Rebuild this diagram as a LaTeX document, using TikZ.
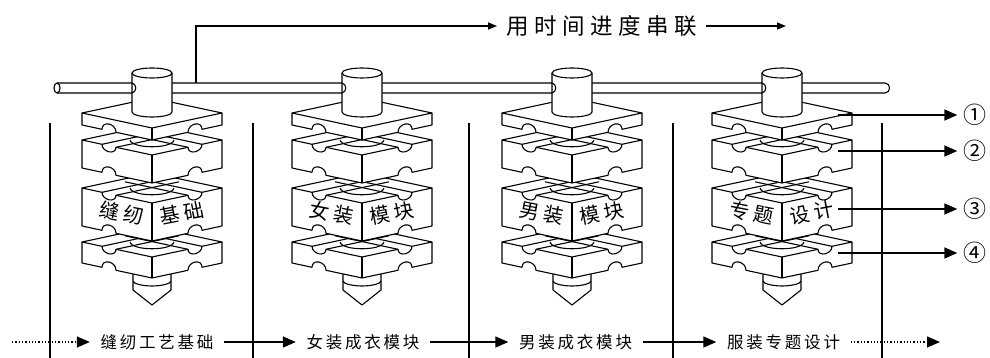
\documentclass[tikz,border=0pt]{standalone}
\usepackage{fontspec}
\newfontfamily\cjk{Noto Sans CJK SC}
\usetikzlibrary{arrows.meta}
\newcommand\gapk{\kern2.8pt}
\newcommand\gapt{\kern5.5pt}
\newcommand\gapf{\kern4.5pt}
% #1 cx, #2 side-top y, #3 side-bottom y, #4 grooved top (1) or plain (0)
\newcommand\pzblock[4]{%
  \draw[blk] ({#1},{#2-15}) -- ({#1+70},#2) -- ({#1+70},#3) -- ({#1+50},{#3+4.3})
    .. controls ({#1+50},{#3-4.7}) and ({#1+36},{#3-1.7}) .. ({#1+36},{#3+7.3})
    -- ({#1},{#3+15}) -- ({#1-36},{#3+7.3})
    .. controls ({#1-36},{#3-1.7}) and ({#1-50},{#3-4.7}) .. ({#1-50},{#3+4.3})
    -- ({#1-70},#3) -- ({#1-70},#2) -- cycle;
  \ifnum#4=1
    \draw[blkline] ({#1-50},{#2+4.3}) -- ++(63,-13.5);
    \draw[blkline] ({#1-36},{#2+7.3}) -- ++(63,-13.5);
    \draw[blkline] ({#1+50},{#2+4.3}) -- ++(-63,-13.5);
    \draw[blkline] ({#1+36},{#2+7.3}) -- ++(-63,-13.5);
    \draw[blkline] ({#1-22},#2) .. controls ({#1-20},{#2+9}) and ({#1+20},{#2+9}) .. ({#1+22},#2);
    \draw[blkline] ({#1-70},#2) -- ({#1-50},{#2+4.3})
      .. controls ({#1-50},{#2+12.3}) and ({#1-36},{#2+15.3}) .. ({#1-36},{#2+7.3})
      -- ({#1},{#2+15}) -- ({#1+36},{#2+7.3})
      .. controls ({#1+36},{#2+15.3}) and ({#1+50},{#2+12.3}) .. ({#1+50},{#2+4.3})
      -- ({#1+70},#2);
  \else
    \draw[blkline] ({#1-70},#2) -- ({#1},{#2+15}) -- ({#1+70},#2);
  \fi
  \draw[blkline] ({#1},{#2+15}) -- ({#1},{#3+15});
}
\begin{document}
\begin{tikzpicture}[x=1pt,y=-1pt,
  blk/.style={line width=1.1pt, line join=round, fill=white, draw=black},
  blkline/.style={line width=1.1pt, line join=round},
  divider/.style={line width=1.7pt},
  arr/.style={line width=1.6pt, -{Triangle[length=13pt,width=11pt]}},
  darr/.style={line width=1.3pt, dotted, -{Triangle[length=13pt,width=11pt]}},
  tarr/.style={line width=1.3pt, -{Triangle[length=9pt,width=7pt]}},
  btxt/.style={font=\cjk\fontsize{16.5pt}{20pt}\selectfont, inner xsep=10.5pt, inner ysep=0pt},
  ttxt/.style={font=\cjk\fontsize{22.5pt}{26pt}\selectfont, inner xsep=9pt, inner ysep=0pt},
  bltxt/.style={font=\cjk\fontsize{20pt}{22pt}\selectfont, inner sep=0pt},
  numtxt/.style={font=\cjk\fontsize{23pt}{26pt}\selectfont, inner sep=0pt},
 ]
\path[use as bounding box] (0,0) rectangle (990,358);

% dividers
\foreach \xx [count=\j] in {50,253,469,673,882}
  \draw[divider] (\xx,123) coordinate (dv\j) -- (\xx,358);

% rod
\draw[blkline] (57,83) -- (885,83) .. controls (891,83) and (891,93) .. (885,93) -- (57,93);
\draw[blkline] (57,88) ellipse [x radius=3, y radius=5];

% stacks
\foreach \cx/\la/\lb/\ra/\rb [count=\i] in {152/缝/纫/基/础, 362/女/装/模/块, 572/男/装/模/块, 782/专/题/设/计}{
  % cone
  \draw[blk] ({\cx-19},268) -- ({\cx-19},290) -- (\cx,305) -- ({\cx+19},290) -- ({\cx+19},268) -- cycle;
  \draw[blkline] ({\cx-19},281) .. controls ({\cx-19},283.5) and ({\cx-10},286) .. (\cx,286) .. controls ({\cx+10},286) and ({\cx+19},283.5) .. ({\cx+19},281);
  \pzblock{\cx}{242}{263}{1}
  \pzblock{\cx}{188}{226}{1}
  \node[bltxt, rotate=-11] (sl\i) at ({\cx-30},213) {\la\gapf\lb};
  \node[bltxt, rotate=11] (sr\i) at ({\cx+30},213) {\ra\gapf\rb};
  \pzblock{\cx}{140}{168}{1}
  \pzblock{\cx}{113}{125}{0}
  % cylinder
  \draw[blk] ({\cx-20},73) -- ({\cx-20},112) .. controls ({\cx-20},114.8) and ({\cx-11},117) .. (\cx,117)
     .. controls ({\cx+11},117) and ({\cx+20},114.8) .. ({\cx+20},112) -- ({\cx+20},73)
     .. controls ({\cx+20},70.2) and ({\cx+11},68) .. (\cx,68)
     .. controls ({\cx-11},68) and ({\cx-20},70.2) .. ({\cx-20},73) -- cycle;
  \draw[blkline] ({\cx-20},73) .. controls ({\cx-20},75.8) and ({\cx-11},78) .. (\cx,78)
     .. controls ({\cx+11},78) and ({\cx+20},75.8) .. ({\cx+20},73);
  \draw[blkline] ({\cx-20},83) .. controls ({\cx-15},84) and ({\cx-15},92) .. ({\cx-20},93);
}

% top arrow with text
\node[ttxt] (top) at (601.5,26) {用\gapt 时\gapt 间\gapt 进\gapt 度\gapt 串\gapt 联};
\coordinate (rodtap) at (196,83);
\coordinate (topend) at (786,26);
\draw[tarr] (rodtap) |- (top.west);
\draw[tarr] (top.east) -- (topend);

% bottom row
\node[btxt] (b1) at (157,342) {缝\gapk 纫\gapk 工\gapk 艺\gapk 基\gapk 础};
\node[btxt] (b2) at (363,342) {女\gapk 装\gapk 成\gapk 衣\gapk 模\gapk 块};
\node[btxt] (b3) at (575.5,342) {男\gapk 装\gapk 成\gapk 衣\gapk 模\gapk 块};
\node[btxt] (b4) at (783.5,342) {服\gapk 装\gapk 专\gapk 题\gapk 设\gapk 计};
\coordinate (bstart) at (12,342);
\coordinate (bend) at (940,342);
\draw[darr] (bstart) -- (b1.west);
\draw[arr] (b1.east) -- (b2.west);
\draw[arr] (b2.east) -- (b3.west);
\draw[arr] (b3.east) -- (b4.west);
\draw[darr] (b4.east) -- (bend);

% numbered labels
\foreach \yy/\nn [count=\k] in {115/①, 151/②, 209/③, 253/④}{
  \node[numtxt] (n\k) at (975,\yy) {\nn};
  \coordinate (ns\k) at (838,\yy);
  \draw[arr] (ns\k) -- ([xshift=-6pt]n\k.west);
}
\end{tikzpicture}
\end{document}
